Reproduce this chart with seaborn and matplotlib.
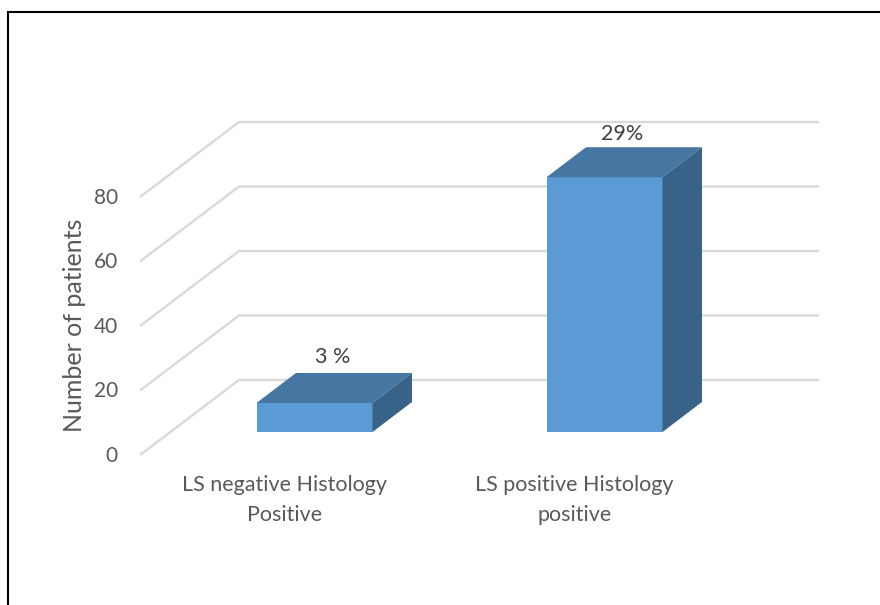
import matplotlib
matplotlib.use("Agg")
import matplotlib.pyplot as plt
from matplotlib.patches import Polygon
from matplotlib.transforms import IdentityTransform, blended_transform_factory
import pandas as pd
import seaborn as sns

categories = ["LS negative Histology\nPositive", "LS positive Histology\npositive"]
patients = [9, 79]
value_labels = ["3 %", "29%"]
y_ticks = [0, 20, 40, 60, 80]

W, H = 880, 605
FRONT_BLUE, TOP_BLUE, SIDE_BLUE = "#5b9bd5", "#4676a2", "#386288"
TEXT_GREY, LABEL_GREY, GRID_GREY = "#595959", "#404040", "#d9d9d9"

sns.set_theme(style="white")
plt.rcParams["font.family"] = ["Lato", "DejaVu Sans"]

fig = plt.figure(figsize=(W / 100, H / 100), dpi=100, facecolor="white")
ax = fig.add_axes([0, 0, 1, 1])

frame = pd.DataFrame({"group": categories, "patients": patients})
sns.barplot(data=frame, x="group", y="patients", color=FRONT_BLUE, saturation=1,
            width=0.4, linewidth=0, ax=ax, zorder=3)

# One category step is 290 px and 20 patients span 64.5 px; the bar base sits at y=432.
ax.set_xlim(-314.5 / 290, (W - 314.5) / 290)
ax.set_ylim((432 - H) / 3.225, 432 / 3.225)
ax.set_axis_off()
fig.canvas.draw()


def flipped(y):
    return H - y


# Slanted wall lines plus back-wall gridlines, placed in the depth of the 3-D box.
x_px_y_data = blended_transform_factory(IdentityTransform(), ax.transData)
for tick in y_ticks:
    display = x_px_y_data.transform([(140, tick), (239, tick), (819, tick)])
    display[0, 1] -= 23
    display[1:, 1] += 52
    ax.plot(display[:, 0], display[:, 1], color=GRID_GREY, lw=1.7,
            solid_capstyle="butt", solid_joinstyle="miter", zorder=1,
            transform=IdentityTransform())
    ax.text(118, display[0, 1] + 1, str(tick), ha="right", va="center_baseline",
            fontsize=15, color=TEXT_GREY, transform=IdentityTransform())

# Extrude every bar back into the page with a top and a side face.
DX, DY = 39.5, 30
label_lift = [18, 15]
bars = ax.patches[:len(patients)]
for patch, label, lift in zip(bars, value_labels, label_lift):
    x0, y0 = ax.transData.transform((patch.get_x(), 0))
    x1, y1 = ax.transData.transform((patch.get_x() + patch.get_width(), patch.get_height()))
    top = [(x0, y1), (x1, y1), (x1 + DX, y1 + DY), (x0 + DX, y1 + DY)]
    side = [(x1, y0), (x1 + DX, y0 + DY), (x1 + DX, y1 + DY), (x1, y1)]
    ax.add_patch(Polygon(top, closed=True, fc=TOP_BLUE, ec="none", zorder=4,
                         transform=IdentityTransform()))
    ax.add_patch(Polygon(side, closed=True, fc=SIDE_BLUE, ec="none", zorder=4,
                         transform=IdentityTransform()))
    ax.text((x0 + x1) / 2 + 18, y1 + DY + lift, label, ha="center", va="center_baseline",
            fontsize=15.5, color=LABEL_GREY, zorder=5, transform=IdentityTransform())

# Category labels sit on the front edge of the floor, left of the bars.
for patch, name in zip(bars, categories):
    xc = ax.transData.transform((patch.get_x() + patch.get_width() / 2, 0))[0]
    ax.text(xc - 30, flipped(500), name, ha="center", va="center", fontsize=15.5,
            color=TEXT_GREY, linespacing=1.6, transform=IdentityTransform())

ax.text(74.5, flipped(325), "Number of patients", rotation=90, ha="center", va="center",
        fontsize=18, color=TEXT_GREY, transform=IdentityTransform())

# Black rule along the left and top edges only.
ax.plot([8, 8, W], [0, flipped(12), flipped(12)], color="black", lw=1.5, zorder=6,
        solid_joinstyle="miter", transform=IdentityTransform(), clip_on=False)

fig.savefig("out.png", dpi=100, facecolor="white")
